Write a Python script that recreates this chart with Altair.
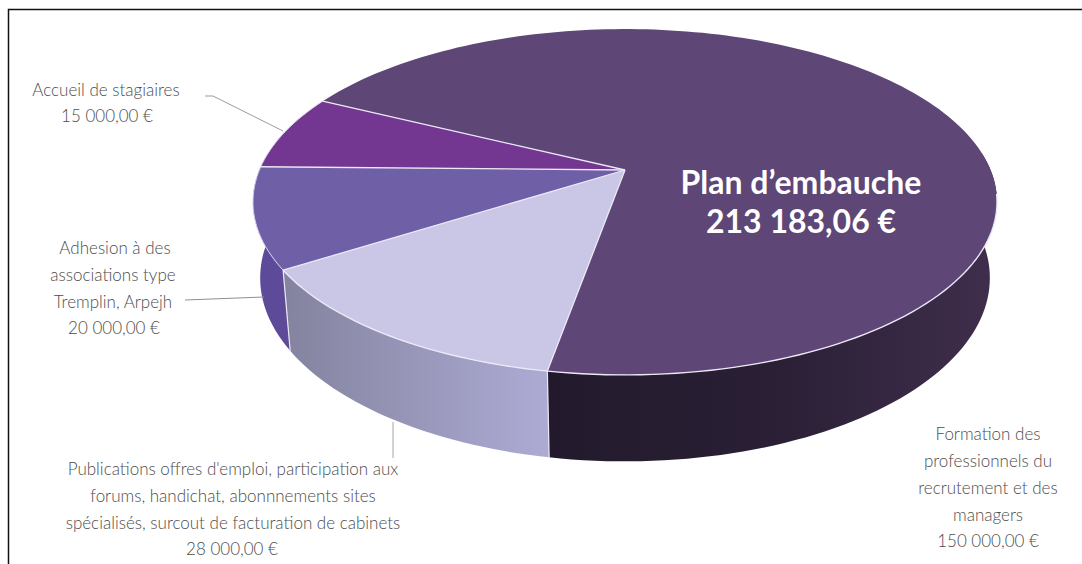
import math
import altair as alt
import pandas as pd

# Budget lines, in euros, in the order they run around the pie
categories = ["Formation des professionnels du recrutement et des managers",
              "Publications offres d'emploi, participation aux forums, handichat, abonnnements sites spécialisés, surcout de facturation de cabinets",
              "Adhesion à des associations type Tremplin, Arpejh",
              "Accueil de stagiaires"]
values = [150000, 28000, 20000, 15000]
top_fills = ["#5e4676", "#c9c6e6", "#6f5fa6", "#733691"]

W, H = 1082, 564
FONT = "Lato"
TEXT = "#4d4d4d"
EDGE = "#ece8f6"

# Perspective view of the disc
CX, CY = 625, 170     # where the disc centre lands
AX, BY = 365.6, 167   # horizontal and depth scale
K = 0.185             # foreshortening towards the back
DROP, SHRINK = 76, 0.019   # thickness of the disc
START = 10.0


def project(phi, r=1.0, low=False):
    a = math.radians(phi)
    u, v = -r * math.sin(a), r * math.cos(a)
    d = 1 - K * v + (SHRINK if low else 0)
    return CX + AX * u / d, CY + (BY * v + (DROP if low else 0)) / d


total = sum(values)
bounds = [START]
for val in values:
    bounds.append(bounds[-1] + 360 * val / total)
# Order: first slice starts after the others, so rotate to the large slice's range
spans = {}
spans[1] = (bounds[0], bounds[1])
spans[2] = (bounds[1], bounds[2])
spans[3] = (bounds[2], bounds[3])
# the large slice closes the circle, ending at the start of the others
a0 = START
a1 = START + 360 * values[1] / total
a2 = a1 + 360 * values[2] / total
a3 = a2 + 360 * values[3] / total
a4 = a3 + 360 * values[0] / total
top_spans = [(a3, a4), (a0, a1), (a1, a2), (a2, a3)]


def arc(p0, p1, low=False):
    n = max(3, int(abs(p1 - p0) / 1.5))
    return [project(p0 + (p1 - p0) * i / n, low=low) for i in range(n + 1)]


X = alt.X("x:Q", scale=alt.Scale(domain=[0, W], range=[0, W]), axis=None)
Y = alt.Y("y:Q", scale=alt.Scale(domain=[0, H], range=[0, H]), axis=None)


def frame(points):
    return pd.DataFrame([{"x": p[0], "y": p[1], "o": i} for i, p in enumerate(points)])


def polygon(points, fill, stroke=None, sw=0):
    kw = {"stroke": stroke, "strokeWidth": sw} if stroke else {"strokeWidth": 0, "strokeOpacity": 0}
    return alt.Chart(frame(points)).mark_line(
        fill=fill, interpolate="linear-closed", **kw
    ).encode(x=X, y=Y, order="o:Q")


def path(points, color, sw=1.0):
    return alt.Chart(frame(points)).mark_line(color=color, strokeWidth=sw).encode(x=X, y=Y, order="o:Q")


def grad(c0, c1, c2=None):
    stops = [alt.GradientStop(color=c0, offset=0)]
    if c2:
        stops.append(alt.GradientStop(color=c1, offset=0.5))
        stops.append(alt.GradientStop(color=c2, offset=1))
    else:
        stops.append(alt.GradientStop(color=c1, offset=1))
    return alt.Gradient(gradient="linear", stops=stops, x1=0, x2=1, y1=0, y2=0)


def wall(p0, p1):
    return arc(p0, p1) + arc(p1, p0, low=True)


layers = [
    # side walls, behind the top face
    polygon(wall(-96, a0), grad("#221a2c", "#2a1f35", "#3f2e4c")),
    polygon(wall(a0, a1), grad("#83839f", "#adabd4")),
    polygon(wall(a1, 96), "#5d4b99"),
]

# top face
for (p0, p1), fill in zip(top_spans, top_fills):
    pts = [(CX, CY)] + arc(p0, p1)
    layers.append(polygon(pts, fill))

# bright rim and slice separators
layers.append(path(arc(-82, a0), EDGE, 1.4))
layers.append(path(arc(a0, a1), EDGE, 1.4))
layers.append(path(arc(a1, a3), "#d8cfee", 1.0))
for p in (a0, a1, a2, a3):
    layers.append(path([(CX, CY), project(p)], EDGE, 1.3))
for p in (a0, a1):
    layers.append(path([project(p), project(p, low=True)], EDGE, 1.2))

# leader lines
layers.append(path([(205, 96), (213, 96), (283, 131)], "#9a9a9a", 1.0))
layers.append(path([(185, 300), (264, 297)], "#8f8f8f", 1.0))
layers.append(path([(393, 422), (393, 458)], "#a6a6a6", 1.0))

# frame on the left and top
layers.append(path([(8.5, H), (8.5, 9.5), (W, 9.5)], "#111111", 1.5))

label_lines = [
    (106, 96, "Accueil de stagiaires"),
    (107, 122, "15 000,00 €"),
    (115, 254, "Adhesion à des"),
    (113, 281, "associations type"),
    (113, 308, "Tremplin, Arpejh"),
    (114, 334, "20 000,00 €"),
    (233, 475, "Publications offres d'emploi, participation aux"),
    (233, 502, "forums, handichat, abonnnements sites"),
    (233, 529, "spécialisés, surcout de facturation de cabinets"),
    (232, 555, "28 000,00 €"),
    (988, 440, "Formation des"),
    (988, 467, "professionnels du"),
    (988, 494, "recrutement et des"),
    (988, 521, "managers"),
    (988, 547, "150 000,00 €"),
]
labels = pd.DataFrame(label_lines, columns=["x", "y", "t"])
layers.append(alt.Chart(labels).mark_text(
    font=FONT, fontSize=17, fontWeight=300, color=TEXT, align="center", baseline="alphabetic"
).encode(x=X, y=Y, text="t:N"))

headline = pd.DataFrame([(801, 194, "Plan d’embauche"), (801, 233, "213 183,06 €")], columns=["x", "y", "t"])
layers.append(alt.Chart(headline).mark_text(
    font=FONT, fontSize=32, fontWeight="bold", color="white", align="center", baseline="alphabetic"
).encode(x=X, y=Y, text="t:N"))

chart = alt.layer(*layers).properties(
    width=W, height=H, padding=0, background="white",
    autosize=alt.AutoSizeParams(type="none"),
).configure_view(stroke=None)

chart.save("out.html", embed_options={"renderer": "svg", "actions": False})
